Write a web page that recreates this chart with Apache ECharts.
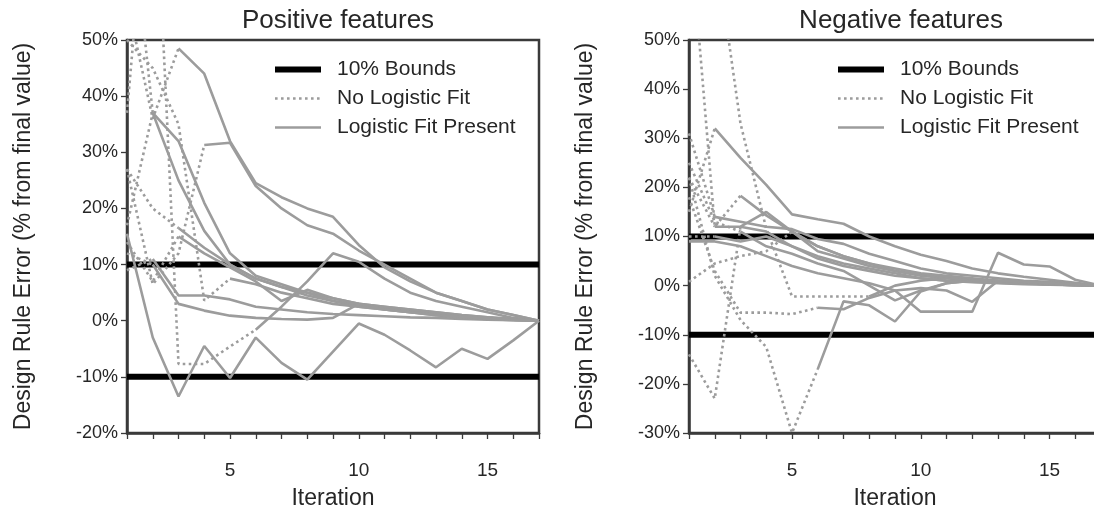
<!DOCTYPE html>
<html>
<head>
<meta charset="utf-8">
<script src="https://cdn.jsdelivr.net/npm/echarts@6/dist/echarts.min.js"></script>
<style>
html,body{margin:0;padding:0;background:#fff;}
#chart{width:1094px;height:514px;}
</style>
</head>
<body>
<div id="chart"></div>
<script>
// ---------- DATA ----------
const iterations = [1,2,3,4,5,6,7,8,9,10,11,12,13,14,15,16,17];
const panelTitles = ['Positive features', 'Negative features'];
const yTicksPos = [-20, -10, 0, 10, 20, 30, 40, 50];
const yTicksNeg = [-30, -20, -10, 0, 10, 20, 30, 40, 50];
const boundValues = [10, -10];
const legendNames = ['10% Bounds', 'No Logistic Fit', 'Logistic Fit Present'];

// Each feature: % error per iteration (1..17); the fit starts at the given iteration
// (dotted = no logistic fit before it, solid = logistic fit present from it on)
const posA = [57, 36, 48.5, 44, 32, 24.5, 22, 20, 18.5, 13.5, 9.5, 7, 5, 3.5, 2, 1, 0];
const posB = [27, 6.5, 12, 31.3, 31.7, 24, 20, 17, 15.5, 12.5, 10, 7.5, 5, 3.5, 2, 1, 0];
const posC = [15.5, -3, -13.5, -4.5, -10.2, -3, -7.5, -10.5, -5.5, -0.5, -2.5, -5.3, -8.3, -5, -6.8, -3.5, 0];
const posD = [37, 90, -7.7, -7.7, -4.6, -1.6, 2.5, 7, 12, 10.5, 7.5, 5, 3.5, 2.5, 1.5, 0.5, 0];
const posE = [80, 37, 32, 21, 12, 8, 6.5, 5, 4, 3, 2.5, 2, 1.5, 1, 0.6, 0.3, 0];
const posF = [17, 37, 25, 16, 10, 7.5, 6, 4.5, 3.5, 2.8, 2.2, 1.7, 1.2, 0.8, 0.5, 0.2, 0];
const posG = [27, 20, 16.5, 13, 10, 7.5, 6, 5, 3.5, 2.5, 2, 1.5, 1.2, 0.8, 0.5, 0.2, 0];
const posH = [14, 7, 15, 12, 9.5, 7, 3.5, 5.5, 4, 3, 2.5, 2, 1.5, 1, 0.6, 0.3, 0];
const posI = [9, 11, 4.5, 4.5, 3.8, 2.5, 2, 1.5, 1.2, 1, 0.8, 0.6, 0.5, 0.3, 0.2, 0.1, 0];
const posJ = [12, 10, 3, 1.8, 0.9, 0.5, 0.3, 0.2, 0.5, 3, 2, 1.5, 1, 0.5, 0.3, 0.1, 0];
const posK = [50, 45, 35, 3.6, 7.5, 6.5, 5, 4, 3, 2.5, 2, 1.5, 1, 0.7, 0.4, 0.2, 0];
const posFitFrom = [3, 4, 1, 6, 2, 2, 3, 3, 2, 2, 5];

const negA = [15, 32, 26, 20.5, 14.5, 13.5, 12.6, 10, 8, 6.3, 5, 3.5, 2.5, 1.8, 1.2, 0.6, 0];
const negB = [75, 12, 18.3, 14.3, 11, 8, 6, 4.5, 3, 2, 1.5, 1, 0.8, 0.6, 0.4, 0.2, 0];
const negC = [31, 14, 13, 12, 11.5, 9.5, 8.5, 6.5, 5, 3.5, 2.5, 2, 1.5, 1, 0.8, 0.4, 0];
const negD = [22, 12, 12, 15, 11, 7, 5.5, 4, 3, 2.2, 1.8, 1.3, 1, 0.8, 0.6, 0.3, 0];
const negE = [10, 10, 9, 10, 8, 6, 4.5, 3.5, 2.5, 1.5, 1, 0.8, 0.6, 0.4, 0.3, 0.1, 0];
const negF = [25, 13, 11, 8, 6.5, 4.5, 3, 0, -3, -1, 0.5, 1, 0.8, 0.5, 0.3, 0.1, 0];
const negG = [90, 70, 33, 11.6, -2.2, -2.2, -2.2, -2.2, 0, 1, 1.5, 1.2, 1, 0.7, 0.4, 0.2, 0];
const negH = [22, 2, -7, -12.5, -30, -17, -3.2, -4, -7.3, -1.2, 0.5, 1, 0.8, 0.5, 0.3, 0.1, 0];
const negI = [-14, -23, 12, 11, 8, 5.5, 4, 3, 2, 1.5, 1, 0.7, 0.5, 0.3, 0.2, 0.1, 0];
const negJ = [0.8, 4.5, 6, 7, 11, 8, 6, 4.5, 3.5, 2.5, 2, 1.5, 1, 0.7, 0.4, 0.2, 0];
const negK = [18, 3, -5.5, -5.5, -5.8, -4.5, -4.8, -2.5, -1, -0.5, -1, -3.3, 1, 0.8, 0.5, 0.2, 0];
const negL = [9, 9, 8, 6, 4, 2.5, 1.5, 0.5, -1, -5.3, -5.3, -5.3, 6.7, 4.3, 3.9, 1.2, 0];
const negFitFrom = [2, 3, 2, 2, 2, 3, 8, 6, 3, 5, 6, 1];

const posFeatures = [posA, posB, posC, posD, posE, posF, posG, posH, posI, posJ, posK];
const negFeatures = [negA, negB, negC, negD, negE, negF, negG, negH, negI, negJ, negK, negL];

// ---------- CHART ----------
const FONT = '"Liberation Sans", Arial, Helvetica, sans-serif';
const GRAY = '#9c9c9c';
const AXIS = '#3a3a3a';
const TEXT = '#262626';
const series = [];

function addBounds(ax) {
  boundValues.forEach(b => {
    series.push({
      type: 'line', name: legendNames[0], xAxisIndex: ax, yAxisIndex: ax,
      data: [[iterations[0], b], [iterations[iterations.length - 1], b]],
      symbol: 'none', silent: true, z: 1,
      lineStyle: { color: '#000', width: 6, cap: 'butt' }, itemStyle: { color: '#000', opacity: 0 }
    });
  });
}

function addFeature(vals, fitFrom, ax) {
  const dotted = [], solid = [];
  vals.forEach((v, i) => {
    const x = iterations[i];
    if (v == null) return;
    if (x <= fitFrom) dotted.push([x, v]);
    if (x >= fitFrom) solid.push([x, v]);
  });
  if (dotted.length > 1) series.push({
    type: 'line', name: legendNames[1], xAxisIndex: ax, yAxisIndex: ax, data: dotted,
    symbol: 'none', z: 2, clip: true,
    lineStyle: { color: GRAY, width: 2.6, type: [2.6, 3.4], cap: 'butt' }, itemStyle: { color: GRAY, opacity: 0 }
  });
  if (solid.length > 1) series.push({
    type: 'line', name: legendNames[2], xAxisIndex: ax, yAxisIndex: ax, data: solid,
    symbol: 'none', z: 3, clip: true,
    lineStyle: { color: GRAY, width: 2.6 }, itemStyle: { color: GRAY, opacity: 0 }
  });
}

addBounds(0); addBounds(1);
posFeatures.forEach((f, i) => addFeature(f, posFitFrom[i], 0));
negFeatures.forEach((f, i) => addFeature(f, negFitFrom[i], 1));

function xAxis(idx) {
  return {
    type: 'value', gridIndex: idx, min: 1, max: 17, interval: 1,
    name: 'Iteration', nameLocation: 'middle', nameGap: 54,
    nameTextStyle: { fontFamily: FONT, fontSize: 23, color: TEXT },
    axisLine: { show: true, onZero: false, lineStyle: { color: AXIS, width: 2.5 } },
    axisTick: { show: true, length: 6, lineStyle: { color: AXIS, width: 1.3 } },
    axisLabel: { fontFamily: FONT, fontSize: 19, color: TEXT, margin: 28,
      formatter: v => (v % 5 === 0 ? String(v) : '') },
    splitLine: { show: false }
  };
}
function yAxis(idx, ticks) {
  return {
    type: 'value', gridIndex: idx, min: ticks[0], max: ticks[ticks.length - 1], interval: 10,
    name: 'Design Rule Error (% from final value)', nameLocation: 'middle', nameGap: 92,
    nameTextStyle: { fontFamily: FONT, fontSize: 23, color: TEXT },
    axisLine: { show: true, onZero: false, lineStyle: { color: AXIS, width: 2.5 } },
    axisTick: { show: true, length: 6, lineStyle: { color: AXIS, width: 1.3 } },
    axisLabel: { fontFamily: FONT, fontSize: 18, color: TEXT, margin: 9, formatter: v => v + '%' },
    splitLine: { show: false }
  };
}

const legendCommon = {
  orient: 'vertical', itemWidth: 46, itemHeight: 14, itemGap: 8,
  data: legendNames, selectedMode: false,
  itemStyle: { opacity: 0 },
  lineStyle: { width: 'inherit' },
  textStyle: { fontFamily: FONT, fontSize: 21, color: TEXT, padding: [0, 0, 0, 11] }
};

const option = {
  animation: false,
  backgroundColor: '#fff',
  title: [
    { text: panelTitles[0], left: 333, top: 3, textAlign: 'center',
      textStyle: { fontFamily: FONT, fontSize: 26, fontWeight: 'normal', color: TEXT } },
    { text: panelTitles[1], left: 896, top: 3, textAlign: 'center',
      textStyle: { fontFamily: FONT, fontSize: 26, fontWeight: 'normal', color: TEXT } }
  ],
  legend: [
    Object.assign({ left: 267, top: 54 }, legendCommon),
    Object.assign({ left: 830, top: 54 }, legendCommon)
  ],
  grid: [
    { left: 127, top: 40, width: 412, height: 393, show: true, borderColor: AXIS, borderWidth: 2.5,
      backgroundColor: 'transparent', outerBoundsMode: 'none', containLabel: false },
    { left: 689, top: 40, width: 412, height: 393, show: true, borderColor: AXIS, borderWidth: 2.5,
      backgroundColor: 'transparent', outerBoundsMode: 'none', containLabel: false }
  ],
  xAxis: [xAxis(0), xAxis(1)],
  yAxis: [yAxis(0, yTicksPos), yAxis(1, yTicksNeg)],
  series: series
};

const chart = echarts.init(document.getElementById('chart'), null, { renderer: 'canvas' });
chart.setOption(option);
</script>
</body>
</html>
